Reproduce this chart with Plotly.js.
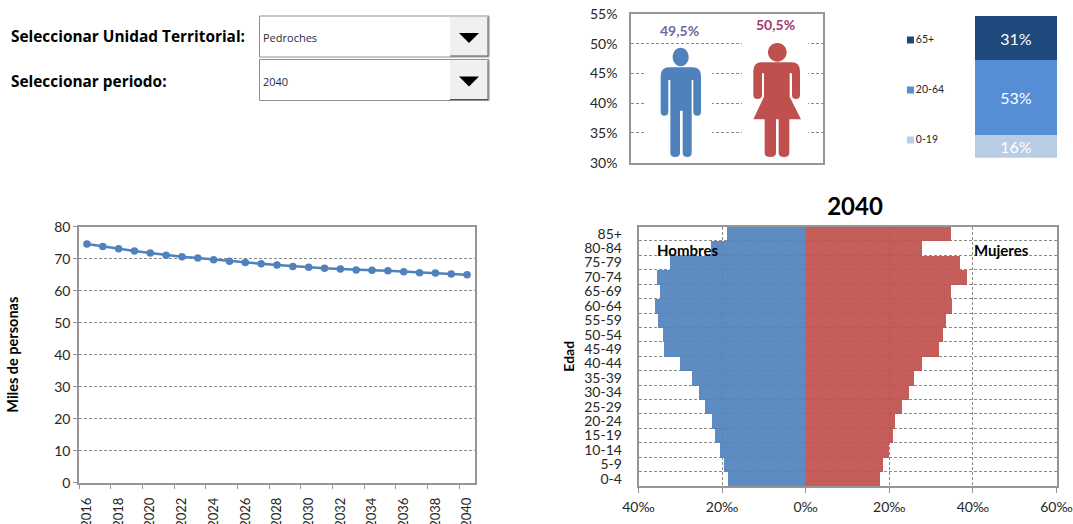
<!DOCTYPE html>
<html>
<head>
<meta charset="utf-8">
<script src="https://cdn.plot.ly/plotly-3.0.1.min.js"></script>
<style>html,body{margin:0;padding:0;background:#fff;overflow:hidden}</style>
</head>
<body>
<div id="chart" style="width:1073px;height:524px"></div>
<script>
// Población total (miles de personas)
const years = [2016,2017,2018,2019,2020,2021,2022,2023,2024,2025,2026,2027,2028,2029,2030,2031,2032,2033,2034,2035,2036,2037,2038,2039,2040];
const population = [74.6,73.8,73.1,72.4,71.8,71.1,70.6,70.2,69.7,69.2,68.8,68.4,68.0,67.6,67.3,67.0,66.8,66.5,66.4,66.2,65.9,65.6,65.5,65.2,65.0];

// Pirámide de edad (por mil)
const ageGroups = ['0-4','5-9','10-14','15-19','20-24','25-29','30-34','35-39','40-44','45-49','50-54','55-59','60-64','65-69','70-74','75-79','80-84','85+'];
const men = [18.6,19.6,20.6,21.7,22.6,24.3,25.7,27.3,30.3,34.1,34.3,35.4,36.1,35.0,35.8,32.5,22.8,18.9];
const women = [17.7,18.4,19.7,20.8,21.2,22.8,24.5,25.9,27.8,31.7,32.7,33.5,34.8,34.6,38.4,36.8,27.6,34.6];
const pyramidTicks = [-40,-20,0,20,40,60];

// Reparto por sexo (%)
const sexes = ['Hombres','Mujeres'];
const sexShare = [49.5,50.5];
const sexColors = ['#4f81bd','#c0504d'];
const sexLabelColors = ['#6c6a9f','#a23a6c'];

// Grandes grupos de edad (%)
const bands = ['0-19','20-64','65+'];
const bandShare = [16,53,31];
const bandColors = ['#b9cde5','#558ed5','#1f497d'];

const W = 1073, H = 524;
const FONT = 'Lato, sans-serif';
const UI_FONT = '"Open Sans", sans-serif';
const INK = '#262626';
const AXIS = '#8c8c8c';
const FRAME = '#969696';
const DASH = '3px,2px';
const dx = (a, b) => [a / W, b / W];
const dy = (top, bottom) => [1 - bottom / H, 1 - top / H];

// Convierte una ruta en píxeles de página a coordenadas de papel
const toPaper = (path, ox, oy, k) => path.replace(/(-?[\d.]+) (-?[\d.]+)/g,
  (_, x, y) => ((ox + x * k) / W).toFixed(5) + ' ' + (1 - (oy + y * k) / H).toFixed(5));

const ellipse = (cx, cy, rx, ry) => {
  const c = 0.5523;
  return `M ${cx - rx} ${cy} C ${cx - rx} ${cy - c * ry} ${cx - c * rx} ${cy - ry} ${cx} ${cy - ry} ` +
    `C ${cx + c * rx} ${cy - ry} ${cx + rx} ${cy - c * ry} ${cx + rx} ${cy} ` +
    `C ${cx + rx} ${cy + c * ry} ${cx + c * rx} ${cy + ry} ${cx} ${cy + ry} ` +
    `C ${cx - c * rx} ${cy + ry} ${cx - rx} ${cy + c * ry} ${cx - rx} ${cy} Z`;
};

// Siluetas
const manPath = ellipse(272, 171, 24, 28) +
  ' M 238 202 L 308 202 Q 333 202 333 228 L 333 335 Q 333 347 322 347 Q 310 347 310 335 L 310 240 L 305 240' +
  ' L 305 458 Q 305 471 292 471 Q 278 471 278 458 L 278 332 L 270 332 L 270 458 Q 270 471 256 471 Q 241 471 241 458' +
  ' L 241 240 L 235 240 L 235 335 Q 235 347 223 347 Q 212 347 212 335 L 212 228 Q 212 202 238 202 Z';
const womanPath = ellipse(562, 157, 28, 28) +
  ' M 515 187 L 605 187 Q 630 187 630 213 L 630 285 Q 630 297 618 297 Q 606 297 606 285 L 606 220 L 599 220 L 599 290' +
  ' L 633 358 L 598 358 L 598 458 Q 598 471 582 471 Q 566 471 566 458 L 566 358 L 558 358 L 558 458 Q 558 471 541 471' +
  ' Q 524 471 524 458 L 524 358 L 490 358 L 522 290 L 522 220 L 516 220 L 516 285 Q 516 297 503 297 Q 490 297 490 285' +
  ' L 490 213 Q 490 187 515 187 Z';

const rect = (x0, y0, x1, y1, fill, line) => ({
  type: 'rect', xref: 'paper', yref: 'paper',
  x0: x0 / W, x1: x1 / W, y0: 1 - y0 / H, y1: 1 - y1 / H,
  fillcolor: fill, line: line ? {color: line, width: 1} : {width: 0}
});
const seg = (x0, y0, x1, y1, color) => ({
  type: 'line', xref: 'paper', yref: 'paper',
  x0: x0 / W, x1: x1 / W, y0: 1 - y0 / H, y1: 1 - y1 / H,
  line: {color, width: 1}
});
const combo = (top) => [
  rect(259.5, top, 489, top + 41, '#ffffff', '#8a8f98'),
  rect(450, top + 1, 488, top + 40, '#f0f0f0'),
  seg(488, top + 1, 488, top + 40, '#555555'),
  seg(450, top + 40, 488, top + 40, '#555555'),
  {type: 'path', xref: 'paper', yref: 'paper', fillcolor: '#000000', line: {width: 0},
   path: toPaper('M 459 ' + (top + 17) + ' L 479 ' + (top + 17) + ' L 469 ' + (top + 27) + ' Z', 0, 0, 1)}
];

const text = (x, y, str, font) => ({
  xref: 'paper', yref: 'paper', x: x / W, y: 1 - y / H, text: str, showarrow: false,
  xanchor: 'left', yanchor: 'middle', font
});

const traces = [
  {type: 'scatter', mode: 'lines+markers', x: years, y: population, xaxis: 'x', yaxis: 'y',
   line: {color: '#4f81bd', width: 2.5}, marker: {color: '#4f81bd', size: 7.5}},
  {type: 'bar', x: sexes, y: sexShare.map(v => v - 30), base: 30, width: 0.667, xaxis: 'x2', yaxis: 'y2',
   marker: {color: '#ffffff', line: {color: '#ffffff', width: 2}}},
  ...bands.map((b, i) => ({
    type: 'bar', name: b, x: ['grupo'], y: [bandShare[i]], xaxis: 'x3', yaxis: 'y3',
    marker: {color: bandColors[i]}, text: [bandShare[i] + '%'], textposition: 'inside',
    insidetextanchor: 'middle', constraintext: 'none',
    textfont: {family: FONT, size: 16, color: '#ffffff'}
  })),
  {type: 'scatter', mode: 'markers+text', x: bands.map(() => 0), y: bands, xaxis: 'x4', yaxis: 'y4',
   text: bands, textposition: 'middle right', textfont: {family: FONT, size: 10.5, color: INK},
   marker: {symbol: 'square', size: 7, color: bandColors}},
  {type: 'bar', orientation: 'h', y: ageGroups, x: men.map(v => -v), xaxis: 'x5', yaxis: 'y5',
   marker: {color: '#4f81bd', opacity: 0.92}},
  {type: 'bar', orientation: 'h', y: ageGroups, x: women, xaxis: 'x5', yaxis: 'y5',
   marker: {color: '#c0504d', opacity: 0.92}}
];

const frame = {showline: true, linecolor: FRAME, linewidth: 1.5, mirror: true};
const tickFont = {family: FONT, size: 14, color: INK};

const layout = {
  width: W, height: H, margin: {l: 0, r: 0, t: 0, b: 0},
  paper_bgcolor: '#ffffff', plot_bgcolor: '#ffffff',
  showlegend: false, barmode: 'relative', bargap: 0,
  title: {text: '<b>2040</b>', x: 855 / W, y: 1 - 207 / H, xanchor: 'center', yanchor: 'middle',
          font: {family: FONT, size: 24, color: '#000000'}},

  // Evolución de la población
  xaxis: Object.assign({}, frame, {
    domain: dx(79, 475), anchor: 'y', range: [2015.5, 2040.5], tick0: 2016, dtick: 2,
    ticks: '', showgrid: false, zeroline: false, tickangle: -90,
    tickfont: {family: FONT, size: 13, color: INK}, ticklabelstandoff: 8,
    minor: {tick0: 2015.5, dtick: 2, ticks: 'outside', ticklen: 5, tickcolor: FRAME, tickwidth: 1, showgrid: false}
  }),
  yaxis: Object.assign({}, frame, {
    domain: dy(226.7, 482.7), anchor: 'x', range: [0, 80], dtick: 10, gridcolor: AXIS, griddash: DASH, gridwidth: 1,
    zeroline: false, ticks: 'outside', ticklen: 4, tickcolor: FRAME, tickfont: tickFont,
    title: {text: '<b>Miles de personas</b>', standoff: 32, font: {family: FONT, size: 14.5, color: '#000000'}}
  }),

  // Reparto por sexo
  xaxis2: Object.assign({}, frame, {
    domain: dx(631, 823), anchor: 'y2', type: 'category', range: [-0.5, 1.5], showticklabels: false,
    ticks: '', showgrid: false, layer: 'below traces', linewidth: 2
  }),
  yaxis2: Object.assign({}, frame, {
    domain: dy(14, 162.7), anchor: 'x2', range: [30, 55], dtick: 5, ticksuffix: '%', gridcolor: AXIS,
    griddash: DASH, gridwidth: 1, zeroline: false, ticks: '', ticklabelstandoff: 9, tickfont: tickFont,
    layer: 'below traces'
  }),

  // Grandes grupos de edad
  xaxis3: {domain: dx(975, 1057), anchor: 'y3', type: 'category', visible: false},
  yaxis3: {domain: dy(16, 157.7), anchor: 'x3', range: [0, 100], visible: false},

  // Leyenda de los grupos de edad
  xaxis4: {domain: dx(905, 965), anchor: 'y4', range: [-0.1, 1], visible: false},
  yaxis4: {domain: dy(15, 165), anchor: 'x4', type: 'category', range: [-0.5, 2.5], visible: false},

  // Pirámide de edad
  xaxis5: Object.assign({}, frame, {
    domain: dx(638.5, 1056.5), anchor: 'y5', range: [-40, 60], tickvals: pyramidTicks,
    ticktext: pyramidTicks.map(v => Math.abs(v) + '‰'), gridcolor: AXIS, griddash: DASH, gridwidth: 1,
    zeroline: false, ticks: 'outside', ticklen: 5, tickcolor: FRAME, tickfont: tickFont, ticklabelstandoff: 2
  }),
  yaxis5: Object.assign({}, frame, {
    domain: dy(226.5, 486), anchor: 'x5', type: 'category', categoryorder: 'array', categoryarray: ageGroups,
    dtick: 1, tickson: 'boundaries', gridcolor: AXIS, griddash: DASH, gridwidth: 1, zeroline: false, ticks: '',
    tickfont: tickFont, ticklabelstandoff: 12,
    title: {text: '<b>Edad</b>', standoff: 6, font: {family: FONT, size: 14, color: '#000000'}}
  }),

  shapes: [
    ...combo(16), ...combo(59.5),
    {type: 'path', xref: 'paper', yref: 'paper', fillcolor: sexColors[0], line: {width: 0}, path: toPaper(manPath, 590, 0, 1 / 3)},
    {type: 'path', xref: 'paper', yref: 'paper', fillcolor: sexColors[1], line: {width: 0}, path: toPaper(womanPath, 590, 0, 1 / 3)}
  ],
  annotations: [
    text(9, 36, '<b>Seleccionar Unidad Territorial:</b>', {family: UI_FONT, size: 15.4, color: '#000000'}),
    text(9, 82, '<b>Seleccionar periodo:</b>', {family: UI_FONT, size: 15.4, color: '#000000'}),
    text(261, 38, 'Pedroches', {family: UI_FONT, size: 11, color: '#1f2a44'}),
    text(261, 81, '2040', {family: UI_FONT, size: 11, color: '#1f2a44'}),
    Object.assign(text(687, 250, '<b>Hombres</b>', {family: FONT, size: 15, color: '#000000'}), {xanchor: 'center'}),
    Object.assign(text(1001, 250, '<b>Mujeres</b>', {family: FONT, size: 15, color: '#000000'}), {xanchor: 'center'}),
    ...sexes.map((s, i) => ({
      xref: 'x2', yref: 'y2', x: s, y: sexShare[i] + 2.8, showarrow: false,
      text: '<b>' + sexShare[i].toFixed(1).replace('.', ',') + '%</b>',
      font: {family: FONT, size: 14, color: sexLabelColors[i]}
    }))
  ]
};

Plotly.newPlot('chart', traces, layout, {displayModeBar: false, responsive: false});
</script>
</body>
</html>
